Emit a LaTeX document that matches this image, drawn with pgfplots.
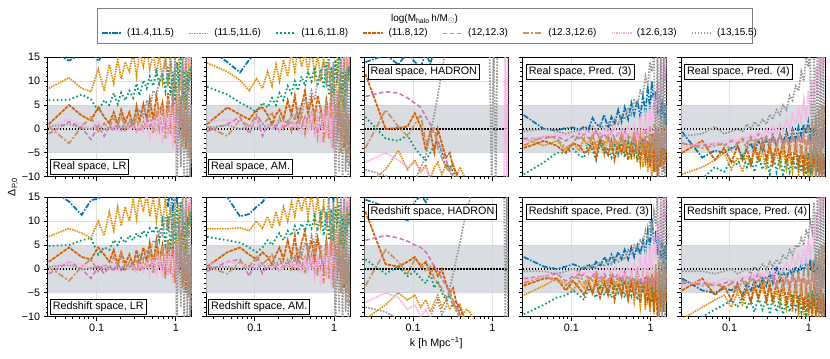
\documentclass[border=0pt]{standalone}
\usepackage{fontspec}
\setmainfont{Liberation Sans}
\usepackage{pgfplots}
\pgfplotsset{compat=1.18}
\usepackage{pgfplotstable}

\definecolor{cA}{HTML}{0173B2}
\definecolor{cB}{HTML}{DE8F05}
\definecolor{cC}{HTML}{029E73}
\definecolor{cD}{HTML}{D55E00}
\definecolor{cE}{HTML}{CC78BC}
\definecolor{cF}{HTML}{CA9161}
\definecolor{cG}{HTML}{FBAFE4}
\definecolor{cH}{HTML}{949494}
\definecolor{band}{HTML}{D0D4DA}

\newcommand\fs{\fontsize{10.8}{13}\selectfont}
\newcommand\fl{\fontsize{10}{12}\selectfont}

% columns: k, then one column per mass bin
\pgfplotstableread{
k     A     B     C     D     E     F     G     H
0.025 16.5  8.5   6.0   1.0  -1.0   0.5   0.5   0.5
0.045 14.3 10.7   6.1   5.0   1.5  -3.0   2.0   1.0
0.065 15.8  8.5   7.2   2.8   0.3   0.5   1.0   0.2
0.085 16.5  7.8   6.2   1.8  -2.2   2.5   0.0   0.0
0.105 14.2 12.5   3.8   4.5   0.5  -0.5   1.5   0.8
0.125 16.0  8.0   6.0   2.5  -1.5   1.2   0.5  -0.3
0.145 17.0 13.5   5.0   1.2   0.6   0.0   0.2   0.5
0.165 18.0  9.5   7.5   3.5  -0.5   2.5   1.0   0.2
0.185 19.0 14.5   5.2   1.0   1.0   0.5  -0.5   1.0
0.205 20.0 10.5   7.6   4.0  -0.3   3.0   0.5   0.0
0.23  21.0 14.0   6.0   1.5   0.8  -0.2   1.0   1.5
0.26  20.0 12.0   8.0   3.5   0.0   1.8   0.0   0.5
0.29  22.0 16.0   6.5   0.5   1.2   0.2   0.5   2.0
0.32  21.0 11.0   9.5   4.8  -0.6   2.5  -1.0   3.0
0.35  23.0 16.0   7.0   1.5   1.5  -0.5   1.0   4.0
0.39  22.0 13.0  10.2   5.2   0.0   1.5  -0.5   2.5
0.43  24.0 17.0   8.5   2.0   2.0   0.5   1.5   6.0
0.47  22.0 12.5  11.0   6.3   0.5   3.0  -2.0   4.0
0.52  25.0 16.0   9.0   1.8   2.2  -1.0   2.0   8.0
0.57  23.0 11.0  12.0   7.0  -0.5   4.0  -1.0   7.0
0.62  24.0 15.5   9.5   3.0   2.5   0.0   3.0  10.0
0.68  22.0 10.0  11.5   5.5   0.0   5.0  -3.0  12.0
0.74  25.0 16.0   8.0   0.5   3.0  -2.0   4.0  14.0
0.80  20.0  9.0  13.0   7.5  -1.0   6.0  -2.0   9.0
0.86  24.0 14.0   7.0   2.0   2.0  -1.0   5.0  16.0
0.92  18.0  5.0  12.0   6.0  -2.0   8.0  -4.0   5.0
0.98  22.0 13.0   5.0  -1.0   3.0  -3.0   6.0  15.0
1.04  19.0  3.0  14.0   5.0   1.0   5.0  -5.0 -12.0
1.10  25.0 15.0   9.0   1.0  -1.0   0.0   8.0  10.0
1.16  20.0  8.0  15.0   6.5   4.0   7.0  10.0  -8.0
1.22  24.0 14.0   6.0  -2.0  -2.0  -4.0  15.0  18.0
1.28  21.0  2.0  13.0   3.0   2.0   4.0  12.0 -12.0
1.34  26.0 16.0   4.0  -4.0   0.0  -2.0  16.0  16.0
1.40  22.0  6.0  12.0   2.0   3.0   6.0  14.0 -10.0
1.46  25.0 15.0   8.0  -3.0  -1.0  -6.0  17.0  12.0
1.52  23.0 10.0  14.0   0.0   2.0   3.0  13.0 -12.0
1.58  26.0 14.0  10.0  -7.0   1.0  -8.0  16.0  18.0
}\tabRlr

\pgfplotstableread{
k     A     B     C     D     E     F     G     H
0.025 17.0 13.8   8.8   1.0  -0.5   0.5   1.5   0.3
0.045 14.0 12.0   7.2   4.5   1.0  -1.5   2.0   0.8
0.065 11.8 10.2   5.5   3.0   2.5   2.0   1.0   0.0
0.085 14.5  8.0   4.5   2.0  -1.0   0.5   0.5   0.5
0.105 16.0 10.5   3.5   4.0   2.5   3.0   1.5   0.2
0.125 17.0  8.5   5.5   4.5  -1.5   1.0   0.2   1.0
0.145 18.0 12.0   4.5   3.0   1.0   2.0   1.0   0.0
0.165 17.0  9.0   6.5   1.0   0.0   3.5   0.0   1.2
0.185 19.0 13.5   5.0   3.0   0.5   0.5   1.2   0.5
0.205 20.0 10.0   7.5   4.0  -0.5   2.5  -0.3   1.5
0.23  19.0 14.5   6.0   2.0   1.0   0.0   1.5   2.0
0.26  21.0 11.0   9.0   6.0   0.5   2.0   0.5   1.0
0.29  22.0 16.0   7.5   3.0   1.5  -0.5   2.0   3.0
0.32  20.0 12.0  10.0   7.0   0.0   2.5   0.0   2.0
0.35  23.0 17.0   8.0   2.0   2.0   0.0   1.0   4.5
0.39  21.0 13.0  11.0   5.0   0.5   3.0  -1.0   3.0
0.43  24.0 16.0   9.0   8.0   2.5  -1.0   2.0   6.0
0.47  22.0 12.0  12.0   3.0   0.0   3.5  -0.5   5.0
0.52  25.0 17.0  10.0   6.5   3.0   0.5   2.5   8.0
0.57  23.0 11.0  13.0   2.0  -1.0   4.0  -2.0   6.0
0.62  24.0 16.0   9.0   7.0   2.0  -1.5   3.0  10.0
0.68  21.0 10.0  12.5   4.0   0.0   5.0  -3.0  12.0
0.74  25.0 15.0   8.5   1.0   3.0  -3.0   4.0  14.0
0.80  19.0  9.0  14.0   6.0  -1.0   6.0  -2.0  10.0
0.86  24.0 14.0   7.0   2.5   2.0  -2.0   5.0  16.0
0.92  17.0  6.0  13.0   7.0  -2.0   7.0  -4.0   6.0
0.98  23.0 13.0   5.0  -1.0   3.5  -4.0   7.0  14.0
1.04  18.0  4.0  14.5   5.0   1.0   5.0  -5.0 -12.0
1.10  25.0 16.0   9.0   0.0  -1.5  -1.0   9.0   8.0
1.16  20.0  7.0  15.0   6.0   4.0   8.0  11.0  -9.0
1.22  24.0 15.0   6.0  -2.0  -2.0  -5.0  15.0  17.0
1.28  21.0  3.0  13.0   3.0   2.5   4.0  12.0 -12.0
1.34  26.0 17.0   4.0  -4.0   0.0  -3.0  16.0  15.0
1.40  22.0  5.0  12.0   2.0   3.0   6.0  14.0  -9.0
1.46  25.0 15.0   8.0  -3.0  -1.0  -7.0  17.0  13.0
1.52  23.0 10.0  14.0   0.0   2.0   3.0  13.0 -12.0
1.58  26.0 15.0  10.0  -6.0   1.0  -8.0  16.0  18.0
}\tabRam

\pgfplotstableread{
k     A     B     C     D     E     F     G     H
0.025 14.0 -12.0   2.5  11.5   6.8  -4.0  -7.0  -8.5
0.045 15.5  -8.5  -2.0   0.0   7.8   4.0  -5.0  -9.8
0.065 13.5  -4.5  -2.5   0.2   7.5   0.5  -6.5 -12.0
0.085 16.0  -8.5  -1.3   0.5   6.5  -1.5  -8.0 -14.0
0.105 14.0  -6.5  -4.0   3.3   5.4   1.0  -7.0 -11.0
0.125 13.0  -9.0  -5.5   0.5   4.5   3.0  -9.0  -8.0
0.145 16.0  -7.5  -6.5  -4.5   2.5  -3.0  -8.0  -5.5
0.165 13.5 -10.5  -5.0  -0.5   1.0  -1.5 -11.0  -1.0
0.185 17.0  -8.0  -3.5  -5.0  -1.0   0.5 -12.0   3.0
0.205 18.0  -7.0  -2.5   0.0  -2.5  -4.0 -14.0   7.0
0.23  19.0  -9.5  -5.0  -3.0  -4.5  -6.0 -15.0  12.0
0.26  20.0  -7.5  -8.0  -6.0  -6.5  -8.0 -16.0  17.0
0.29  21.0  -9.0  -7.5  -5.0  -8.5  -9.0 -16.0  18.0
0.32  22.0  -7.0  -9.0  -8.0 -10.0 -10.0 -16.0  18.0
0.35  23.0 -10.0 -10.0  -9.0 -12.0 -12.0 -16.0  18.0
0.39  24.0  -8.0 -11.0 -11.0 -14.0 -14.0 -16.0  18.0
0.43  25.0  -9.5 -13.0 -14.0 -16.0 -16.0 -16.0  18.0
0.47  25.0 -11.0 -15.0 -16.0 -16.0 -16.0 -16.0  18.0
0.52  25.0 -13.0 -16.0 -16.0 -16.0 -16.0 -16.0  18.0
0.57  25.0 -15.0 -16.0 -16.0 -16.0 -16.0 -16.0  18.0
0.62  25.0 -16.0 -16.0 -16.0 -16.0 -16.0 -16.0  18.0
0.68  25.0 -16.0 -16.0 -16.0 -16.0 -16.0 -16.0  18.0
0.74  25.0 -16.0 -16.0 -16.0 -16.0 -16.0 -16.0  18.0
0.80  25.0 -16.0 -16.0 -16.0 -16.0 -16.0 -16.0  18.0
0.86  25.0 -16.0 -16.0 -16.0 -16.0 -16.0 -16.0  18.0
0.92  25.0 -16.0 -16.0 -16.0 -16.0 -16.0 -16.0  18.0
0.98  25.0 -16.0 -16.0 -16.0 -16.0 -16.0 -16.0 -12.0
1.04  25.0 -16.0 -16.0 -16.0 -16.0 -16.0 -16.0  18.0
1.10  25.0 -16.0 -16.0 -16.0 -16.0 -16.0 -16.0 -12.0
1.16  25.0 -16.0 -16.0 -16.0 -16.0 -16.0 -16.0  18.0
1.22  25.0 -16.0 -16.0 -16.0 -16.0 -16.0 -16.0  18.0
1.28  25.0 -16.0 -16.0 -16.0 -16.0 -16.0 -16.0  18.0
1.34  25.0 -16.0 -16.0 -16.0 -16.0 -16.0 -16.0  18.0
1.40  25.0 -16.0 -16.0 -16.0 -16.0 -16.0 -16.0  18.0
1.46  25.0 -16.0 -16.0 -16.0 -16.0 -16.0  17.0  18.0
1.52  25.0 -16.0 -16.0 -16.0 -16.0 -16.0 -12.0  18.0
1.58  25.0 -16.0 -16.0 -16.0 -16.0 -16.0  17.0  18.0
}\tabRhad

\pgfplotstableread{
k     A     B     C     D     E     F     G     H
0.025  2.9  -2.0  -9.5  -4.0  -2.0  -3.5  -2.5  -0.5
0.045  0.0  -3.5  -7.0  -2.5  -2.0  -1.5  -1.5   0.0
0.065 -0.3  -2.5  -5.0  -3.5  -1.5  -2.0  -1.0  -0.5
0.085  0.2  -4.5  -5.0  -5.0  -2.5  -4.0  -1.5  -1.0
0.105  0.3  -3.0  -4.2  -3.0  -1.5  -3.0  -1.0  -0.5
0.125 -0.3  -4.5  -5.5  -3.5  -2.0  -1.0  -0.5  -0.2
0.145  0.5  -2.0  -6.0  -5.0  -1.0  -2.5  -1.0   0.0
0.165  0.0  -5.0  -3.0  -4.5  -2.0  -3.0  -0.5  -0.5
0.185  2.3  -1.0  -4.5  -3.0  -1.5  -1.5  -1.0   0.5
0.205  1.0  -4.0  -6.5  -6.0  -0.5  -3.5   0.0  -0.5
0.23   0.5  -2.5  -3.0  -2.0  -2.0  -1.0  -1.5   1.0
0.26   3.0  -5.5  -5.0  -4.0  -1.0  -3.0  -0.5   0.0
0.29   0.0  -1.5  -4.0  -5.5  -2.5  -1.5   0.0   1.5
0.32   2.5  -4.5  -6.0  -2.5  -0.5  -4.0  -1.0   0.5
0.35   1.0  -2.0  -3.5  -6.5  -2.0  -2.0   0.5   2.0
0.39   4.0  -6.0  -5.0  -3.0  -1.0  -3.5  -1.5   1.0
0.43   1.5  -1.0  -2.5  -5.0  -2.5  -1.0   0.0   3.0
0.47   4.5  -5.0  -6.0  -2.0  -0.5  -4.5  -2.0   2.0
0.52   2.0  -2.5  -3.0  -6.5  -2.0  -1.5   0.5   4.5
0.57   5.5  -6.5  -5.5  -3.0  -1.5  -4.0  -1.5   3.0
0.62   3.0  -1.5  -2.0  -5.5  -3.0  -0.5   1.0   6.0
0.68   6.0  -7.0  -6.5  -2.0  -0.5  -5.0  -2.5   5.0
0.74   2.5  -2.0  -3.0  -7.0  -2.5  -1.0   2.0   8.0
0.80   7.0  -8.0  -5.0  -1.5  -1.0  -5.5  -2.0   7.0
0.86   3.5  -3.0  -1.5  -6.5  -3.5   0.0   3.0  11.0
0.92   9.0  -9.0  -6.0  -2.5  -0.5  -6.0  -1.5   9.0
0.98   4.0  -2.0  -2.5  -8.0  -3.0   0.5   5.0  14.0
1.04  10.0 -10.5  -7.0  -1.0  -1.5  -7.0  -1.0  12.0
1.10   5.0  -3.0  -2.0  -9.0  -3.5   1.0   7.0  16.0
1.16   8.0  -9.0  -6.5  -1.5  -0.5  -5.0   2.0  -9.0
1.22   3.0  -1.5  -3.0 -10.5  -4.0   0.5  10.0  17.0
1.28   7.0  -8.0  -5.5  -2.0  -1.0  -6.0   4.0 -12.0
1.34   2.0  -3.0  -2.5  -8.0  -3.5   1.5  14.0  18.0
1.40   6.0  -7.0  -6.0  -3.0  -2.0  -4.0   6.0 -12.0
1.46   1.0  -2.0  -3.0  -9.0  -4.0   2.0  16.0  18.0
1.52   5.0  -6.0  -5.0  -4.0  -1.0  -3.0  10.0 -12.0
1.58   0.0  -4.0  -3.5  -7.0  -3.0   1.0  17.0  18.0
}\tabRpt

\pgfplotstableread{
k     A     B     C     D     E     F     G     H
0.025 -0.6  -9.5 -11.0  -5.0  -3.0  -3.0  -4.0  -1.5
0.045 -6.0  -8.0 -10.5  -2.5  -3.5  -4.0  -3.0  -1.0
0.065 -4.5  -6.5  -8.0  -6.5  -3.0  -3.5  -3.0   0.5
0.085 -5.0  -5.0  -9.0  -4.0  -3.5  -3.0  -2.5  -1.0
0.105 -4.0  -8.5  -6.5  -7.0  -2.5  -4.5  -2.0  -0.5
0.125 -3.5  -6.0  -7.5  -3.5  -3.0  -3.0  -2.5   0.0
0.145 -6.0  -9.0  -5.5  -6.5  -2.0  -2.5  -1.5  -0.5
0.165 -4.0  -5.5  -8.0  -4.0  -3.0  -4.0  -2.0   1.0
0.185 -3.0  -8.0  -6.0  -7.5  -1.5  -2.0  -1.0   0.0
0.205 -5.0  -4.5  -9.0  -3.5  -2.5  -3.5  -2.0   1.5
0.23  -2.5  -7.0  -5.5  -6.0  -1.0  -2.0  -0.5   0.5
0.26  -4.5  -5.0  -8.5  -2.5  -2.5  -4.0  -1.5   2.0
0.29  -2.0  -8.5  -6.0  -6.5  -1.5  -1.5   0.0   1.0
0.32  -4.0  -4.0  -9.5  -3.0  -2.5  -3.5  -1.0   3.0
0.35  -1.5  -7.5  -5.0  -7.0  -1.0  -2.0   0.5   2.0
0.39  -3.5  -5.0  -9.0  -3.0  -3.0  -4.0  -1.0   4.0
0.43  -1.0  -8.0  -6.0  -6.0  -1.5  -1.0   1.0   3.0
0.47  -3.0  -4.5  -9.5  -2.5  -3.0  -4.5  -0.5   5.0
0.52  -0.5  -8.5  -6.5  -7.0  -1.5  -1.5   2.0   4.0
0.57  -2.5  -5.0  -9.0  -3.5  -3.5  -5.0   0.0   7.0
0.62   0.0  -9.0  -6.0  -7.5  -1.0  -1.0   3.0   6.0
0.68  -2.0  -4.0  -8.5  -3.0  -3.5  -5.5   1.0   9.0
0.74   0.5  -9.5  -5.5  -8.0  -1.5  -0.5   4.0   8.0
0.80  -1.5  -5.0  -9.0  -3.5  -3.0  -6.0   1.5  12.0
0.86   1.0 -10.0  -6.0  -8.5  -1.0   0.0   6.0  10.0
0.92  -1.0  -5.5  -9.5  -4.0  -4.0  -6.5   2.0  15.0
0.98   1.5 -10.5  -5.0  -9.0  -2.0   1.0   8.0  13.0
1.04  -2.0  -6.0  -8.5  -4.0  -4.5  -7.0   3.0  17.0
1.10   0.5 -11.0  -4.5  -9.5  -1.0   2.0  10.0  -9.0
1.16  -1.5  -5.0  -8.0  -3.0  -3.5  -6.0   5.0  18.0
1.22   1.0 -10.0  -4.0 -10.5  -1.5   3.0  13.0 -12.0
1.28  -2.5  -6.0  -9.0  -4.0  -4.0  -5.0   7.0  17.0
1.34   0.0  -9.0  -5.0 -11.0  -2.0   4.0  15.0 -12.0
1.40  -1.0  -5.5  -9.5  -3.5  -3.5  -6.0   9.0  18.0
1.46  -3.0 -10.0  -5.5 -10.0  -2.0   5.0  16.0 -12.0
1.52   0.0  -6.0  -8.0  -5.0  -3.0  -4.0  12.0  18.0
1.58  -2.0  -9.0  -6.0 -11.0  -1.0   6.0  17.0 -12.0
}\tabRpf

\pgfplotstableread{
k     A     B     C     D     E     F     G     H
0.025 17.0  6.8   4.8   1.5  -1.0   0.5   0.0   0.5
0.045 14.1  8.5   5.0   4.5   1.5  -2.5   1.5   0.8
0.065 11.3  7.5   6.0   2.5   0.0   0.5   1.0   0.0
0.085 14.4  6.5   6.5   2.0  -2.0   2.0   0.0   0.2
0.105 14.7 10.0   3.0   4.5   0.5  -0.5   1.0   0.5
0.125 16.0  7.0   4.5   3.0  -1.0   1.0   0.5   0.0
0.145 15.5 12.0   4.0   1.5   0.5   0.0   0.0   0.5
0.165 17.0  8.0   6.0   4.0  -0.5   2.5   1.0   0.0
0.185 16.0 13.0   5.0   1.0   1.0   0.5  -0.5   1.0
0.205 18.0  9.0   6.5   3.5  -0.3   3.0   0.5   0.0
0.23  17.0 13.0   5.5   1.0   0.8  -0.5   1.0   1.0
0.26  19.0 10.0   7.0   3.0   0.0   1.5   0.0   0.5
0.29  18.0 14.5   6.0   0.5   1.0   0.0   0.5   1.5
0.32  20.0 10.5   7.5   4.0  -0.5   2.0  -1.0   2.5
0.35  19.0 15.5   6.5   1.0   1.5  -0.5   1.0   3.0
0.39  21.0 12.0   8.0   4.5   0.0   1.5  -0.5   2.0
0.43  18.0 16.0   7.0   1.5   1.5   0.5   1.5   4.0
0.47  22.0 11.0   8.5   5.5   0.5   3.0  -1.5   3.0
0.52  20.0 15.0   7.5   1.0   2.0  -1.0   2.0   6.0
0.57  17.0 10.0   9.0   6.0  -0.5   4.0  -1.0   5.0
0.62  21.0 14.5   6.0   2.0   2.5   0.0   2.5   8.0
0.68  16.0  9.0  10.0   5.0   0.0   5.0  -2.0   7.0
0.74  20.0 15.0   5.0  -1.0   3.0  -2.0   3.0  11.0
0.80  13.0  8.0  11.0   6.0  -1.0   6.0  -1.5   8.0
0.86  18.0 13.0   4.0   1.0   2.0  -1.0   4.0  14.0
0.92  12.0  4.0  12.0   5.0  -2.0   7.0  -3.0   6.0
0.98  17.0 12.0   3.0  -2.0   3.0  -3.0   5.0  15.0
1.04  14.0  2.0  13.0   4.0   1.0   5.0  -4.0 -10.0
1.10  19.0 14.0   6.0   0.0  -1.0   0.0   7.0  10.0
1.16  15.0  6.0  14.0   5.0   3.5   6.0   9.0  -8.0
1.22  20.0 13.0   5.0  -3.0  -2.0  -4.0  13.0  17.0
1.28  16.0  1.0  12.0   2.0   2.0   4.0  10.0 -12.0
1.34  21.0 15.0   3.0  -5.0   0.0  -2.0  15.0  16.0
1.40  17.0  5.0  11.0   1.0   3.0   6.0  12.0 -10.0
1.46  22.0 14.0   7.0  -4.0  -1.0  -6.0  16.0  13.0
1.52  18.0  9.0  13.0  -1.0   2.0   3.0  12.0 -12.0
1.58  23.0 13.0   9.0  -8.0   1.0  -9.0  15.0  18.0
}\tabSlr

\pgfplotstableread{
k     A     B     C     D     E     F     G     H
0.025 17.5  8.4   6.7   0.5  -0.5   0.5   1.0   0.3
0.045 15.0  8.4   6.0   3.5   1.5  -1.0   1.5   0.5
0.065 11.0  8.6   5.5   4.5   2.0   1.5   1.0   0.0
0.085 11.5  8.0   4.5   3.0  -1.5   0.5   0.0   0.5
0.105 13.0 10.0   3.5   2.0   2.0   2.5   1.0   0.0
0.125 14.0  8.5   4.5   3.5  -1.0   1.0   0.5   1.0
0.145 15.5 11.0   6.0   2.5   1.0   2.0   1.0   0.0
0.165 17.0  8.5   5.0   1.0   0.0   3.0   0.0   1.0
0.185 18.0 12.0   6.5   3.0   0.5   0.5   1.0   0.5
0.205 16.5  9.0   7.5   4.5  -0.5   2.5  -0.5   1.0
0.23  19.0 13.0   6.0   2.0   1.0   0.0   1.0   1.5
0.26  20.0 10.0   8.0   6.0   0.5   2.0   0.5   1.0
0.29  18.0 14.0   7.0   2.5   1.5  -0.5   1.5   2.5
0.32  21.0 11.0   9.0   7.0   0.0   2.5   0.0   2.0
0.35  19.0 15.0   7.5   1.5   2.0   0.0   1.0   4.0
0.39  22.0 12.0   9.5   5.5   0.5   3.0  -1.0   3.0
0.43  20.0 15.5   8.0   8.0   2.5  -1.0   2.0   5.5
0.47  23.0 11.0  10.0   3.0   0.0   3.5  -0.5   4.0
0.52  19.0 16.0   8.5   6.0   3.0   0.5   2.5   7.0
0.57  22.0 10.0  11.0   2.0  -1.0   4.0  -2.0   5.0
0.62  18.0 15.0   8.0   6.5   2.0  -1.5   3.0   9.0
0.68  21.0  9.0  11.5   3.0   0.0   5.0  -2.5  11.0
0.74  17.0 14.0   7.0   0.0   3.0  -3.0   4.0  13.0
0.80  20.0  8.0  12.0   6.0  -1.0   6.0  -2.0  10.0
0.86  15.0 13.0   6.0   2.0   2.0  -2.0   5.0  15.0
0.92  19.0  5.0  12.5   7.0  -2.0   7.0  -3.0   6.0
0.98  14.0 12.0   5.0  -1.0   3.5  -4.0   6.0  14.0
1.04  18.0  3.0  13.0   5.0   1.0   5.0  -4.0 -12.0
1.10  15.0 15.0   8.0   0.0  -1.5  -1.0   8.0   8.0
1.16  19.0  6.0  14.0   6.0   4.0   7.0  10.0  -9.0
1.22  16.0 14.0   5.0  -2.0  -2.0  -5.0  14.0  17.0
1.28  20.0  2.0  12.0   3.0   2.5   4.0  11.0 -12.0
1.34  17.0 16.0   4.0  -4.0   0.0  -3.0  15.0  15.0
1.40  21.0  5.0  11.0   2.0   3.0   6.0  13.0  -9.0
1.46  18.0 14.0   7.0  -3.0  -1.0  -7.0  16.0  13.0
1.52  22.0  9.0  13.0   0.0   2.0   3.0  12.0 -12.0
1.58  19.0 14.0   9.0  -6.0   1.0  -8.0  15.0  18.0
}\tabSam

\pgfplotstableread{
k     A     B     C     D     E     F     G     H
0.025 14.5 -10.5   2.0  12.0   6.0  -3.5  -7.0  -8.0
0.045 13.0  -7.5  -1.0   1.0   7.0   4.0  -5.0  -9.0
0.065 11.5  -5.0   0.5   0.5   6.5   1.5  -6.0 -10.5
0.085 10.0  -6.5  -1.5   1.5   5.8  -1.0  -8.5 -12.0
0.105 14.0  -5.5  -0.5   2.5   5.0   2.0  -7.5 -11.0
0.125 15.5  -8.0  -2.0   0.5   4.5   1.0 -10.0 -13.0
0.145 14.0  -6.5  -3.0   1.5   3.5  -0.5  -8.5 -12.0
0.165 16.0  -9.0  -1.0  -1.0   2.0   0.5 -11.0 -10.0
0.185 17.0  -7.0  -4.0   0.5   0.5  -2.0 -12.0  -8.0
0.205 18.0  -5.5  -2.5  -1.5  -0.5  -3.0 -14.0  -6.5
0.23  19.0  -8.0  -5.0   0.0  -2.0  -4.0 -15.0  -9.5
0.26  20.0  -6.5  -6.5  -3.0  -3.5  -6.0 -16.0  -8.0
0.29  21.0  -8.5  -5.5  -5.0  -5.0  -4.5 -16.0  -4.0
0.32  22.0  -7.0  -8.0  -4.0  -6.5  -7.0 -16.0  -1.0
0.35  23.0  -9.0  -7.0  -7.0  -8.0  -8.5 -16.0   2.0
0.39  24.0  -7.5  -9.5  -8.0  -9.5 -10.5 -16.0   5.5
0.43  25.0  -9.5 -10.0 -10.0 -11.0 -12.0 -16.0   9.0
0.47  25.0  -8.5 -11.0 -12.0 -13.0 -14.0 -16.0  12.0
0.52  25.0  -9.0 -13.0 -14.0 -15.0 -16.0 -16.0  14.5
0.57  25.0 -10.5 -15.0 -16.0 -16.0 -16.0 -16.0  17.0
0.62  25.0 -12.0 -16.0 -16.0 -16.0 -16.0 -16.0  18.0
0.68  25.0 -16.0 -16.0 -16.0 -16.0 -16.0 -16.0  18.0
0.74  25.0 -16.0 -16.0 -16.0 -16.0 -16.0 -16.0  18.0
0.80  25.0 -16.0 -16.0 -16.0 -16.0 -16.0 -16.0  18.0
0.86  25.0 -16.0 -16.0 -16.0 -16.0 -16.0 -16.0  18.0
0.92  25.0 -16.0 -16.0 -16.0 -16.0 -16.0 -16.0  18.0
0.98  25.0 -16.0 -16.0 -16.0 -16.0 -16.0 -16.0  18.0
1.04  25.0 -16.0 -16.0 -16.0 -16.0 -16.0 -16.0  18.0
1.10  25.0 -16.0 -16.0 -16.0 -16.0 -16.0 -16.0  18.0
1.16  25.0 -16.0 -16.0 -16.0 -16.0 -16.0 -16.0  18.0
1.22  25.0 -16.0 -16.0 -16.0 -16.0 -16.0 -16.0  18.0
1.28  25.0 -16.0 -16.0 -16.0 -16.0 -16.0 -16.0  18.0
1.34  25.0 -16.0 -16.0 -16.0 -16.0 -16.0 -16.0  18.0
1.40  25.0 -16.0 -16.0 -16.0 -16.0 -16.0 -16.0  18.0
1.46  25.0 -16.0 -16.0 -16.0 -16.0 -16.0 -16.0 -12.0
1.52  25.0 -16.0 -16.0 -16.0 -16.0 -16.0 -16.0  18.0
1.58  25.0 -16.0 -16.0 -16.0 -16.0 -16.0 -16.0 -12.0
}\tabShad

\pgfplotstableread{
k     A     B     C     D     E     F     G     H
0.025  2.5  -5.5  -9.5  -3.5  -2.0  -3.0  -2.5  -0.5
0.045  0.5  -3.5  -7.5  -2.0  -1.5  -1.5  -1.5  -0.5
0.065  0.0  -2.0  -6.0  -2.0  -1.0  -2.5  -0.5  -1.0
0.085  0.5  -3.0  -5.5  -4.5  -2.5  -3.5  -1.5  -0.5
0.105  1.0  -4.5  -4.5  -2.5  -1.5  -2.0  -1.0   0.0
0.125  0.5  -2.5  -5.5  -4.0  -2.0  -1.0  -0.5  -0.5
0.145  0.0  -4.0  -6.5  -5.5  -1.0  -3.0  -1.0   0.5
0.165  1.0  -2.0  -4.0  -3.0  -2.0  -1.5  -0.5   0.0
0.185  0.0  -5.0  -5.0  -5.0  -1.5  -2.5  -1.0   1.0
0.205  1.5  -1.5  -6.0  -2.5  -0.5  -1.0   0.0   0.0
0.23   0.5  -4.0  -3.5  -6.0  -2.0  -3.0  -1.5   1.5
0.26   2.5  -2.0  -5.5  -3.0  -1.0  -1.5  -0.5   0.5
0.29   1.0  -5.0  -4.0  -5.5  -2.5  -3.5   0.0   2.0
0.32   3.0  -1.0  -6.0  -2.0  -0.5  -1.0  -1.0   1.0
0.35   1.5  -4.5  -3.5  -6.5  -2.0  -3.0   0.5   2.5
0.39   3.5  -1.5  -5.0  -3.0  -1.0  -1.5  -1.5   1.5
0.43   2.0  -5.5  -2.5  -5.5  -2.5  -3.5   0.0   3.0
0.47   4.0  -2.0  -6.0  -2.0  -0.5  -1.0  -2.0   2.0
0.52   2.0  -6.0  -3.0  -6.5  -2.0  -4.0   0.5   4.0
0.57   4.5  -1.5  -5.5  -3.0  -1.5  -1.0  -1.5   3.0
0.62   2.5  -7.0  -2.0  -5.5  -3.0  -4.5   1.0   5.0
0.68   5.0  -2.0  -6.5  -2.0  -0.5  -0.5  -2.5   4.0
0.74   3.0  -8.0  -3.0  -7.0  -2.5  -5.0   2.0   6.0
0.80   6.0  -2.5  -5.0  -1.5  -1.0  -1.0  -2.0   5.0
0.86   3.5  -8.5  -1.5  -6.5  -3.5  -5.5   3.0   8.0
0.92   8.0  -3.0  -6.0  -2.5  -0.5   0.0  -1.5   6.0
0.98   4.0  -9.0  -2.5  -8.0  -3.0  -6.0   5.0  10.0
1.04  10.5  -2.0  -7.0  -1.0  -1.5   0.5  -1.0   8.0
1.10   5.0  -9.5  -2.0  -9.0  -3.5  -5.0   7.0  12.0
1.16   8.0  -3.0  -6.5  -1.5  -0.5   1.0   2.0   9.0
1.22   3.0  -8.0  -3.0 -10.5  -4.0  -6.0  10.0  16.0
1.28   7.0  -2.0  -5.5  -2.0  -1.0   1.5   4.0 -12.0
1.34   2.0  -9.0  -2.5  -8.0  -3.5  -4.0  14.0  18.0
1.40   6.0  -3.0  -6.0  -3.0  -2.0   2.0   6.0 -12.0
1.46   1.0  -8.0  -3.0  -9.0  -4.0  -3.0  16.0  18.0
1.52   5.0  -2.0  -5.0  -4.0  -1.0   1.0  10.0 -12.0
1.58   0.0  -7.0  -3.5  -7.0  -3.0  -2.0  17.0  18.0
}\tabSpt

\pgfplotstableread{
k     A     B     C     D     E     F     G     H
0.025 -2.0 -10.5 -11.0  -4.5  -3.0  -2.5  -3.5  -0.5
0.045 -4.5  -8.0 -10.0  -2.0  -3.0  -3.5  -2.5  -0.5
0.065 -5.0  -6.5  -8.5  -5.5  -3.5  -3.0  -3.0  -1.0
0.085 -4.0  -5.5  -7.5  -3.5  -3.0  -4.0  -2.0  -0.5
0.105 -4.5  -8.0  -6.5  -6.5  -2.5  -3.0  -2.5   0.0
0.125 -3.5  -5.0  -8.0  -3.0  -3.5  -4.5  -2.0  -1.0
0.145 -5.5  -7.5  -6.0  -6.0  -2.0  -2.5  -1.5  -0.5
0.165 -3.0  -4.5  -8.0  -4.0  -3.0  -4.0  -2.0   0.0
0.185 -4.5  -7.0  -6.5  -7.0  -1.5  -2.0  -1.0  -1.0
0.205 -2.5  -4.0  -9.0  -3.0  -2.5  -3.5  -1.5   0.5
0.23  -4.0  -6.5  -6.0  -6.0  -1.0  -2.0  -0.5  -0.5
0.26  -2.0  -3.5  -8.5  -2.5  -2.5  -4.0  -1.5   1.0
0.29  -3.5  -7.0  -6.0  -6.5  -1.5  -1.5  -0.5   0.0
0.32  -1.0  -4.0  -9.5  -3.0  -2.5  -3.0  -1.0   1.5
0.35  -3.0  -7.5  -5.5  -6.5  -1.0  -2.0   0.0   0.5
0.39   0.5  -4.5  -9.0  -3.0  -3.0  -4.0  -1.0   2.0
0.43  -2.5  -8.0  -6.0  -6.0  -1.5  -1.0   0.5   1.0
0.47  -0.5  -4.5  -9.5  -2.5  -3.0  -4.5  -0.5   3.0
0.52  -2.0  -8.5  -6.5  -7.0  -1.5  -1.5   1.5   2.0
0.57   0.0  -5.0  -9.0  -3.5  -3.5  -5.0   0.0   4.0
0.62  -1.5  -9.0  -6.0  -7.5  -1.0  -1.0   2.5   3.0
0.68   0.5  -4.5  -8.5  -3.0  -3.5  -5.5   0.5   5.0
0.74  -1.0  -9.5  -5.5  -8.0  -1.5  -0.5   3.0   4.5
0.80   1.0  -5.0  -9.0  -3.5  -3.0  -6.0   1.0   6.5
0.86  -0.5 -10.0  -6.0  -8.5  -1.0   0.0   4.0   5.0
0.92   1.5  -5.5  -9.5  -4.0  -4.0  -6.5   1.5   8.0
0.98  -1.0 -10.5  -5.0  -9.0  -2.0   1.0   6.0   7.0
1.04   2.0  -6.0  -8.5  -4.0  -4.5  -7.0   2.0  10.0
1.10  -1.5 -11.0  -4.5  -9.5  -1.0   2.0   9.0   8.0
1.16   1.0  -5.0  -8.0  -3.0  -3.5  -6.0   4.0  14.0
1.22  -2.0 -10.0  -4.0 -10.5  -1.5   3.0  12.0  -8.0
1.28   0.5  -6.0  -9.0  -4.0  -4.0  -5.0   6.0  17.0
1.34  -1.0  -9.0  -5.0 -11.0  -2.0   4.0  15.0 -12.0
1.40   0.0  -5.5  -9.5  -3.5  -3.5  -6.0   9.0  18.0
1.46  -2.5 -10.0  -5.5 -10.0  -2.0   5.0  16.0 -12.0
1.52   0.0  -6.0  -8.0  -5.0  -3.0  -4.0  12.0  18.0
1.58  -2.0  -9.0  -6.0 -11.0  -1.0   6.0  17.0 -12.0
}\tabSpf

% line styles of the eight mass bins (plain TikZ styles)
\tikzset{
  sA/.style={color=cA, line width=1.7bp, dash pattern=on 5.5bp off 1.6bp on 1.5bp off 1.6bp},
  sB/.style={color=cB, line width=1.6bp, dash pattern=on 1.5bp off 1bp},
  sC/.style={color=cC, line width=1.8bp, dash pattern=on 1.6bp off 2.4bp},
  sD/.style={color=cD, line width=1.7bp, dash pattern=on 3.5bp off 1bp},
  sE/.style={color=cE, line width=1.6bp, dash pattern=on 4.5bp off 2.5bp},
  sF/.style={color=cF, line width=1.7bp, dash pattern=on 6bp off 2bp on 2bp off 2bp},
  sG/.style={color=cG, line width=1.7bp, dash pattern=on 1.4bp off 0.9bp},
  sH/.style={color=cH, line width=1.7bp, dash pattern=on 1.5bp off 1.5bp},
  lbl/.style={draw=black, fill=white, line width=0.8bp, inner sep=2.4bp, font=\fs},
}

\pgfplotsset{
  every axis/.append style={
    scale only axis, width=144bp, height=119.4bp,
    anchor=north west,
    xmin=0.0242, xmax=1.59, ymin=-10, ymax=15,
    xtick={0.1,1}, xticklabels={0.1,1},
    minor xtick={0.03,0.04,0.05,0.06,0.07,0.08,0.09,0.2,0.3,0.4,0.5,0.6,0.7,0.8,0.9},
    ytick={-10,-5,0,5,10,15}, yticklabels={−10,−5,0,5,10,15},
    minor y tick num=4,
    xmajorgrids, ymajorgrids,
    major grid style={black!12, line width=0.8bp},
    tick pos=left, tick align=outside,
    major tick length=4bp, minor tick length=2.2bp,
    tick style={black, line width=0.7bp},
    axis line style={line width=0.8bp},
    tick label style={font=\fs},
  },
}

\newcommand\bandzero{%
  \fill[band, fill opacity=0.8] (rel axis cs:0,0.2) rectangle (rel axis cs:1,0.6);
  \addplot[black, line width=1.3bp, dash pattern=on 1.3bp off 1.7bp, forget plot]
    coordinates {(0.0242,0) (1.59,0)};
}
\newcommand\series[1]{%
  \addplot[sA] table[x=k,y=A]{#1};
  \addplot[sB] table[x=k,y=B]{#1};
  \addplot[sC] table[x=k,y=C]{#1};
  \addplot[sD] table[x=k,y=D]{#1};
  \addplot[sE] table[x=k,y=E]{#1};
  \addplot[sF] table[x=k,y=F]{#1};
  \addplot[sG] table[x=k,y=G]{#1};
  \addplot[sH] table[x=k,y=H]{#1};
}

\begin{document}
\begin{tikzpicture}
\path[use as bounding box] (0,0) rectangle (830bp,-359bp);

% top row: real space
\begin{semilogxaxis}[at={(47.7bp,-57.3bp)}, xticklabels={}]
\bandzero
\series{\tabRlr}
\node[lbl, anchor=south west] at (rel axis cs:0.016,0.014) {Real space, LR};
\end{semilogxaxis}

\begin{semilogxaxis}[at={(206bp,-57.3bp)}, xticklabels={}, yticklabels={}]
\bandzero
\series{\tabRam}
\node[lbl, anchor=south west] at (rel axis cs:0.016,0.014) {Real space, AM.};
\end{semilogxaxis}

\begin{semilogxaxis}[at={(364.3bp,-57.3bp)}, xticklabels={}, yticklabels={}]
\bandzero
\series{\tabRhad}
\node[lbl, anchor=north west] at (rel axis cs:0.024,0.944) {Real space, HADRON};
\end{semilogxaxis}

\begin{semilogxaxis}[at={(522.6bp,-57.3bp)}, xticklabels={}, yticklabels={}]
\bandzero
\series{\tabRpt}
\node[lbl, anchor=north west] at (rel axis cs:0.024,0.944) {Real space, Pred. (3)};
\end{semilogxaxis}

\begin{semilogxaxis}[at={(680.9bp,-57.3bp)}, xticklabels={}, yticklabels={}]
\bandzero
\series{\tabRpf}
\node[lbl, anchor=north west] at (rel axis cs:0.024,0.944) {Real space, Pred. (4)};
\end{semilogxaxis}

% bottom row: redshift space
\begin{semilogxaxis}[at={(47.7bp,-197.3bp)}]
\bandzero
\series{\tabSlr}
\node[lbl, anchor=south west] at (rel axis cs:0.016,0.014) {Redshift space, LR};
\end{semilogxaxis}

\begin{semilogxaxis}[at={(206bp,-197.3bp)}, yticklabels={}]
\bandzero
\series{\tabSam}
\node[lbl, anchor=south west] at (rel axis cs:0.016,0.014) {Redshift space, AM.};
\end{semilogxaxis}

\begin{semilogxaxis}[at={(364.3bp,-197.3bp)}, yticklabels={}]
\bandzero
\series{\tabShad}
\node[lbl, anchor=north west] at (rel axis cs:0.024,0.944) {Redshift space, HADRON};
\end{semilogxaxis}

\begin{semilogxaxis}[at={(522.6bp,-197.3bp)}, yticklabels={}]
\bandzero
\series{\tabSpt}
\node[lbl, anchor=north west] at (rel axis cs:0.024,0.944) {Redshift space, Pred. (3)};
\end{semilogxaxis}

\begin{semilogxaxis}[at={(680.9bp,-197.3bp)}, yticklabels={}]
\bandzero
\series{\tabSpf}
\node[lbl, anchor=north west] at (rel axis cs:0.024,0.944) {Redshift space, Pred. (4)};
\end{semilogxaxis}

% legend: frame, title, line keys and labels
\draw[black!50, line width=0.8bp] (97.3bp,-8.3bp) rectangle (752bp,-43.3bp);
\node[font=\fl] at (424.6bp,-19bp) {log(M\textsubscript{halo}\,h/M\textsubscript{$\odot$})};
\begin{scope}[every node/.style={font=\fl, inner sep=0pt, anchor=west}]
\node (l1) at (127bp,-33.3bp) {(11.4,11.5)};
\node (l2) at ([xshift=40bp]l1.east) {(11.5,11.6)};
\node (l3) at ([xshift=40bp]l2.east) {(11.6,11.8)};
\node (l4) at ([xshift=40bp]l3.east) {(11.8,12)};
\node (l5) at ([xshift=40bp]l4.east) {(12,12.3)};
\node (l6) at ([xshift=40bp]l5.east) {(12.3,12.6)};
\node (l7) at ([xshift=40bp]l6.east) {(12.6,13)};
\node (l8) at ([xshift=40bp]l7.east) {(13,15.5)};
\end{scope}
\draw[sA] ([xshift=-25bp]l1.west) -- ++(20bp,0);
\draw[sB] ([xshift=-25bp]l2.west) -- ++(20bp,0);
\draw[sC] ([xshift=-25bp]l3.west) -- ++(20bp,0);
\draw[sD] ([xshift=-25bp]l4.west) -- ++(20bp,0);
\draw[sE] ([xshift=-25bp]l5.west) -- ++(20bp,0);
\draw[sF] ([xshift=-25bp]l6.west) -- ++(20bp,0);
\draw[sG] ([xshift=-25bp]l7.west) -- ++(20bp,0);
\draw[sH] ([xshift=-25bp]l8.west) -- ++(20bp,0);

% shared axis labels
\node[font=\fs] at (436.3bp,-343bp) {k [h Mpc\textsuperscript{−1}]};
\node[font=\fs, rotate=90] at (13bp,-187bp) {Δ\textsubscript{P,0}};
\end{tikzpicture}
\end{document}
